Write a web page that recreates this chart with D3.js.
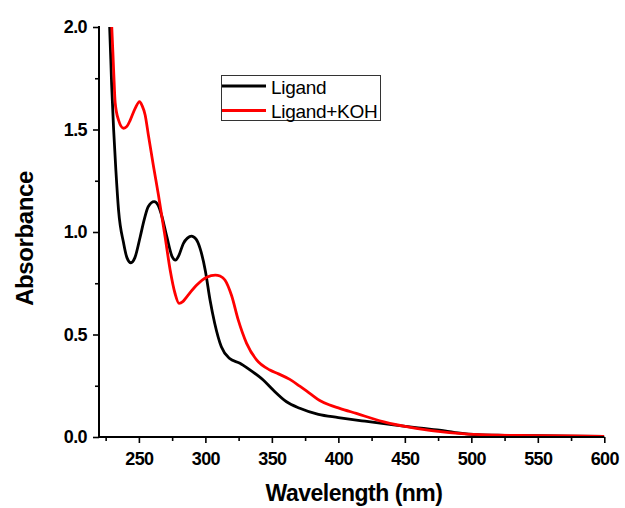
<!DOCTYPE html>
<html><head><meta charset="utf-8">
<script src="https://cdn.jsdelivr.net/npm/d3@7"></script>
<style>body{margin:0;background:#fff}svg{display:block}</style>
</head><body>
<svg id="c" width="625" height="508"></svg>
<script>
// ---- data ----
const seriesNames = ["Ligand", "Ligand+KOH"];
const seriesColors = ["#000000", "#ff0000"];
const ligandWl = [227.3,228,229.5,231,232.7,234.7,238.5,241,244,247,251,254,257,261.5,264.5,267,271,275,277.5,280,283.5,286.5,289.5,293,296,300,303.5,307,312,318,326,333.5,343.5,351,361,371,385,400,420,440,460,470,480,490,505,525,550,575,600];
const ligandAbs = [2.08,2.0,1.72,1.5,1.3,1.107,0.946,0.875,0.85,0.875,0.977,1.06,1.123,1.148,1.13,1.083,0.977,0.88,0.863,0.885,0.945,0.97,0.98,0.965,0.92,0.81,0.668,0.555,0.44,0.384,0.36,0.327,0.278,0.229,0.172,0.14,0.11,0.095,0.077,0.06,0.045,0.037,0.03,0.02,0.011,0.008,0.006,0.004,0.003];
const kohWl = [228.8,229.6,231,232.2,234.7,238.5,241,243.5,247.2,250.5,252.5,254.7,257.2,261,264.7,269.7,273.5,277.2,280.2,283,286,293.5,301,307.5,311,314.7,319.7,324.7,331,338.5,348.5,355,363.5,371,378.5,386,393,401,413.5,433.5,458.5,483.5,511,550,600];
const kohAbs = [2.08,2.0,1.79,1.628,1.546,1.506,1.515,1.546,1.603,1.636,1.615,1.571,1.47,1.32,1.18,0.977,0.815,0.70,0.652,0.66,0.684,0.741,0.779,0.79,0.785,0.766,0.69,0.571,0.457,0.376,0.327,0.308,0.281,0.248,0.213,0.178,0.157,0.14,0.115,0.075,0.042,0.021,0.01,0.007,0.003];
const xMajorTicks = [250,300,350,400,450,500,550,600];
const xMinorTicks = [225,275,325,375,425,475,525,575];
const yMajorTicks = [0.0,0.5,1.0,1.5,2.0];
const yMinorTicks = [0.25,0.75,1.25,1.75];
const xTitle = "Wavelength (nm)";
const yTitle = "Absorbance";

// ---- chart ----
const svg = d3.select("#c");
const x = d3.scaleLinear().domain([220, 600]).range([99, 604.3]);
const y = d3.scaleLinear().domain([0, 2]).range([437, 27]);
const font = "'Liberation Sans', Arial, sans-serif";

svg.append("defs").append("clipPath").attr("id","clip")
  .append("rect").attr("x", x(220)).attr("y", y(2)).attr("width", x(600)-x(220)).attr("height", y(0)-y(2));

const line = d3.line().x(d=>x(d[0])).y(d=>y(d[1])).curve(d3.curveMonotoneX);
const series = [
  d3.zip(ligandWl, ligandAbs),
  d3.zip(kohWl, kohAbs)
];
const g = svg.append("g").attr("clip-path","url(#clip)");
series.forEach((s,i)=>{
  g.append("path").datum(s).attr("d", line).attr("fill","none")
   .attr("stroke", seriesColors[i]).attr("stroke-width", 2.8).attr("stroke-linejoin","round");
});

// axes
function styleAxis(sel){
  sel.select(".domain").remove();
  sel.selectAll("line").attr("stroke","#000").attr("stroke-width",1.6);
  sel.selectAll("text").attr("font-family", font).attr("font-weight","bold")
     .attr("font-size", 18).attr("fill","#000").attr("letter-spacing","-0.6px");
}
const xa = svg.append("g").attr("transform",`translate(0,${y(0)})`)
  .call(d3.axisBottom(x).tickValues(xMajorTicks).tickSize(6).tickPadding(9).tickFormat(d3.format("d")));
styleAxis(xa);
const xm = svg.append("g").attr("transform",`translate(0,${y(0)})`)
  .call(d3.axisBottom(x).tickValues(xMinorTicks).tickSize(4).tickFormat(""));
styleAxis(xm);
const ya = svg.append("g").attr("transform",`translate(${x(220)},0)`)
  .call(d3.axisLeft(y).tickValues(yMajorTicks).tickSize(6).tickPadding(6).tickFormat(d3.format(".1f")));
styleAxis(ya);
const ym = svg.append("g").attr("transform",`translate(${x(220)},0)`)
  .call(d3.axisLeft(y).tickValues(yMinorTicks).tickSize(4).tickFormat(""));
styleAxis(ym);

// axis lines
svg.append("line").attr("x1", x(220)).attr("x2", x(220)).attr("y1", y(2)-1).attr("y2", y(0)+1)
  .attr("stroke","#000").attr("stroke-width",2);
svg.append("line").attr("x1", x(220)-1).attr("x2", x(600)).attr("y1", y(0)).attr("y2", y(0))
  .attr("stroke","#000").attr("stroke-width",2);

// titles
svg.append("text").attr("x", 354).attr("y", 501).attr("text-anchor","middle")
  .attr("font-family", font).attr("font-weight","bold").attr("font-size", 23).attr("letter-spacing","-0.5px").text(xTitle);
svg.append("text").attr("transform","translate(33,238.5) rotate(-90)").attr("text-anchor","middle")
  .attr("font-family", font).attr("font-weight","bold").attr("font-size", 24).attr("letter-spacing","-0.4px").text(yTitle);

// legend
const lg = svg.append("g");
lg.append("rect").attr("x",221.5).attr("y",75.5).attr("width",159).attr("height",45)
  .attr("fill","#fff").attr("stroke","#333").attr("stroke-width",1);
seriesNames.forEach((n,i)=>{
  const yy = 86 + i*24.5;
  lg.append("line").attr("x1",222).attr("x2",266).attr("y1",yy).attr("y2",yy)
    .attr("stroke", seriesColors[i]).attr("stroke-width",3);
  lg.append("text").attr("x",271).attr("y",yy+7.5).attr("font-family",font).attr("font-size",19)
    .attr("letter-spacing","-0.3px").text(n);
});
</script>
</body></html>
